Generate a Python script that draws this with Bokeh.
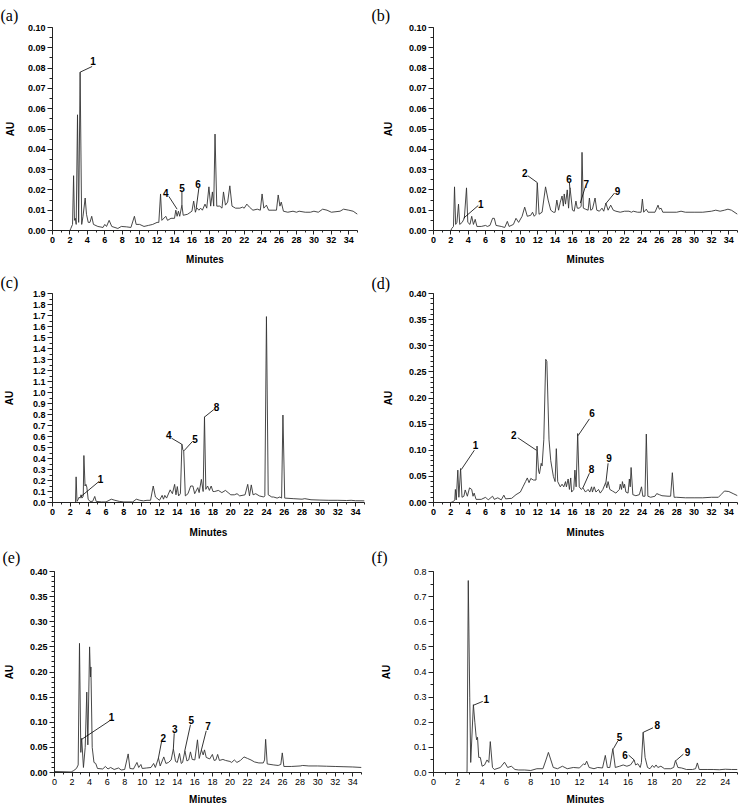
from bokeh.plotting import figure
from bokeh.models import Range1d, FixedTicker, NumeralTickFormatter, ColumnDataSource
from bokeh.layouts import row, column
from bokeh.core.properties import value
from bokeh.embed import file_html
from bokeh.resources import INLINE

# ---------------- data: (minutes, AU) vertices of each chromatogram ----------------
a_trace = [(0,0),(2.0,0),(2.1,0.001),(2.3,0.003),(2.42,0.027),(2.52,0.005),(2.62,0.006),(2.72,0.003),
    (2.87,0.057),(3.0,0.004),(3.17,0.078),(3.35,0.003),(3.5,0.007),(3.75,0.016),(3.9,0.008),(4.1,0.004),
    (4.3,0.004),(4.5,0.007),(4.7,0.003),(5.2,0.002),(5.8,0.0015),(6.0,0.003),(6.2,0.002),(6.5,0.005),
    (6.8,0.002),(7.5,0.001),(7.9,0.002),(8.5,0.0018),(9.0,0.0015),(9.4,0.007),(9.6,0.003),(10.0,0.003),
    (10.5,0.002),(11.0,0.0025),(11.5,0.003),(12.0,0.004),(12.2,0.004),(12.4,0.018),(12.55,0.005),
    (13.0,0.007),(13.2,0.005),(13.6,0.006),(14.0,0.006),(14.15,0.010),(14.3,0.007),(14.45,0.0095),
    (14.6,0.007),(14.85,0.0125),(15.0,0.0075),(15.5,0.008),(16.0,0.0095),(16.2,0.0145),(16.4,0.009),
    (16.55,0.0112),(16.8,0.010),(17.0,0.011),(17.2,0.010),(17.5,0.013),(17.7,0.011),(17.95,0.0215),
    (18.15,0.012),(18.35,0.019),(18.5,0.012),(18.65,0.0475),(18.85,0.012),(19.2,0.012),(19.45,0.011),
    (19.62,0.019),(19.85,0.0125),(20.1,0.014),(20.35,0.022),(20.6,0.012),(21.0,0.011),(21.5,0.011),
    (21.8,0.0115),(22.0,0.011),(22.3,0.013),(22.6,0.0115),(23.0,0.010),(23.5,0.0105),(23.85,0.010),
    (24.05,0.018),(24.25,0.011),(24.55,0.0125),(24.8,0.010),(25.3,0.010),(25.7,0.010),(25.9,0.0175),
    (26.1,0.012),(26.25,0.014),(26.5,0.0095),(27.0,0.009),(27.6,0.0095),(28.0,0.009),(28.3,0.0095),
    (29.0,0.009),(29.6,0.009),(30.0,0.0095),(30.5,0.009),(31.0,0.0105),(31.5,0.010),(32.0,0.009),
    (33.0,0.0095),(33.4,0.0105),(34.0,0.010),(34.5,0.0095),(35.0,0.008)]

b_trace = [(0,0),(2.0,0),(2.1,0.001),(2.3,0.002),(2.42,0.0215),(2.55,0.003),(2.7,0.004),(2.88,0.013),
    (3.02,0.003),(3.3,0.004),(3.55,0.006),(3.8,0.021),(3.95,0.004),(4.2,0.003),(4.4,0.007),(4.6,0.003),
    (4.8,0.0055),(5.0,0.002),(5.5,0.002),(6.0,0.0025),(6.2,0.002),(6.5,0.0025),(6.8,0.006),(7.0,0.006),
    (7.2,0.0025),(7.8,0.002),(8.2,0.0015),(8.5,0.0045),(8.7,0.002),(9.2,0.003),(9.5,0.006),(9.8,0.004),
    (10.2,0.007),(10.5,0.0115),(10.8,0.007),(11.2,0.0075),(11.4,0.009),(11.6,0.007),(11.8,0.008),
    (11.95,0.0235),(12.15,0.008),(12.5,0.009),(12.9,0.0215),(13.2,0.015),(13.5,0.010),(13.8,0.009),
    (14.0,0.009),(14.2,0.015),(14.4,0.010),(14.6,0.014),(14.8,0.017),(14.95,0.012),(15.05,0.018),
    (15.2,0.013),(15.4,0.020),(15.55,0.011),(15.72,0.021),(16.0,0.010),(16.2,0.0095),(16.4,0.0145),
    (16.55,0.011),(16.8,0.011),(17.0,0.012),(17.1,0.0385),(17.25,0.011),(17.5,0.0105),(17.8,0.010),
    (17.95,0.016),(18.1,0.010),(18.3,0.0105),(18.6,0.016),(18.8,0.010),(19.1,0.0095),(19.4,0.011),
    (19.6,0.0095),(19.85,0.0135),(20.1,0.010),(20.4,0.0125),(20.7,0.010),(21.0,0.0095),(21.5,0.009),
    (22.0,0.0095),(22.5,0.0095),(22.8,0.009),(23.0,0.0095),(23.5,0.009),(23.9,0.009),(24.05,0.0155),
    (24.2,0.009),(24.5,0.0105),(24.7,0.009),(25.5,0.009),(25.85,0.0125),(26.0,0.0105),(26.2,0.011),
    (26.4,0.009),(27.0,0.009),(28.0,0.009),(28.5,0.0095),(29.0,0.009),(30.0,0.009),(31.0,0.009),
    (32.0,0.0095),(32.5,0.010),(33.0,0.0095),(33.5,0.0100),(33.9,0.0105),(34.3,0.010),(35.0,0.008)]

c_trace = [(0,0),(2.5,0),(2.58,0.005),(2.65,0.233),(2.75,0.01),(2.9,0.03),(3.0,0.05),(3.1,0.04),
    (3.2,0.07),(3.3,0.04),(3.4,0.05),(3.45,0.06),(3.52,0.427),(3.65,0.15),(3.75,0.165),(3.85,0.14),
    (4.0,0.03),(4.2,0.01),(4.5,0.01),(4.74,0.055),(4.9,0.01),(5.5,0.005),(6.0,0.005),(6.6,0.03),
    (7.0,0.02),(7.5,0.01),(8.0,0.005),(9.0,0.005),(9.4,0.03),(9.8,0.02),(10.2,0.015),(10.6,0.02),
    (11.0,0.02),(11.3,0.15),(11.55,0.05),(12.0,0.02),(12.3,0.065),(12.45,0.03),(12.6,0.065),(12.8,0.04),
    (13.2,0.115),(13.45,0.08),(13.7,0.165),(13.85,0.07),(14.0,0.145),(14.15,0.06),(14.35,0.08),
    (14.52,0.53),(14.62,0.48),(14.72,0.47),(14.9,0.06),(15.2,0.08),(15.5,0.15),(15.75,0.15),
    (15.95,0.08),(16.3,0.135),(16.45,0.09),(16.7,0.21),(16.9,0.10),(17.05,0.78),(17.2,0.12),(17.4,0.15),
    (17.6,0.11),(17.8,0.15),(18.0,0.10),(18.2,0.10),(18.6,0.11),(19.0,0.09),(19.4,0.11),(19.7,0.09),
    (20.0,0.07),(20.4,0.07),(20.7,0.08),(21.0,0.06),(21.6,0.07),(21.9,0.165),(22.1,0.06),(22.3,0.16),
    (22.5,0.07),(22.8,0.08),(23.2,0.06),(23.7,0.05),(23.82,0.06),(24.0,1.69),(24.2,0.07),(24.4,0.06),
    (24.6,0.05),(24.8,0.05),(25.2,0.04),(25.5,0.05),(25.7,0.04),(25.85,0.795),(26.05,0.04),(27.0,0.035),
    (28.0,0.03),(28.3,0.035),(29.0,0.025),(30.0,0.022),(31.0,0.02),(32.0,0.02),(33.0,0.018),
    (33.5,0.02),(34.0,0.016),(35.0,0.015)]

d_trace = [(0,0),(2.0,0),(2.3,0.002),(2.45,0.005),(2.52,0.025),(2.62,0.005),(2.8,0.062),(2.92,0.01),
    (3.12,0.065),(3.28,0.01),(3.5,0.012),(3.65,0.024),(3.9,0.012),(4.15,0.028),(4.4,0.025),(4.55,0.012),
    (4.68,0.018),(4.9,0.006),(5.5,0.006),(6.0,0.01),(6.3,0.005),(6.8,0.012),(7.0,0.006),(7.4,0.009),
    (7.8,0.005),(8.1,0.014),(8.3,0.007),(9.0,0.008),(9.5,0.015),(10.0,0.02),(10.3,0.03),(10.6,0.04),
    (10.8,0.047),(11.0,0.038),(11.2,0.046),(11.5,0.043),(11.8,0.043),(11.92,0.108),(12.1,0.06),
    (12.2,0.055),(12.4,0.075),(12.5,0.07),(12.7,0.12),(12.92,0.274),(13.05,0.27),(13.3,0.12),(13.5,0.08),
    (13.8,0.05),(14.0,0.04),(14.14,0.103),(14.3,0.04),(14.6,0.03),(14.8,0.035),(15.0,0.03),(15.2,0.04),
    (15.3,0.03),(15.5,0.045),(15.65,0.025),(15.8,0.047),(15.9,0.02),(16.15,0.025),(16.28,0.062),
    (16.42,0.03),(16.6,0.132),(16.78,0.03),(17.0,0.025),(17.2,0.028),(17.5,0.02),(17.8,0.025),
    (18.0,0.02),(18.2,0.03),(18.3,0.02),(18.5,0.03),(18.7,0.02),(19.0,0.025),(19.2,0.018),(19.5,0.025),
    (19.82,0.038),(19.95,0.028),(20.1,0.04),(20.3,0.025),(20.6,0.022),(21.0,0.018),(21.4,0.025),
    (21.5,0.035),(21.65,0.025),(21.75,0.04),(21.9,0.028),(22.0,0.035),(22.15,0.02),(22.4,0.018),
    (22.55,0.045),(22.65,0.03),(22.75,0.067),(22.95,0.015),(23.3,0.013),(23.7,0.015),(23.95,0.03),
    (24.1,0.012),(24.35,0.012),(24.5,0.131),(24.68,0.012),(25.0,0.01),(25.5,0.012),(25.7,0.017),
    (26.0,0.015),(26.3,0.013),(27.0,0.012),(27.3,0.012),(27.5,0.057),(27.7,0.01),(28.0,0.01),
    (29.0,0.009),(30.0,0.009),(31.0,0.009),(32.0,0.01),(32.8,0.01),(33.1,0.015),(33.5,0.022),
    (34.0,0.021),(34.5,0.017),(35.0,0.013)]

e_trace = [(0,0.002),(1.9,0.001),(2.2,0.004),(2.5,0.008),(2.7,0.015),(2.85,0.257),(3.0,0.04),
    (3.1,0.068),(3.3,0.01),(3.5,0.05),(3.68,0.16),(3.8,0.055),(4.0,0.25),(4.1,0.19),(4.15,0.21),
    (4.3,0.05),(4.5,0.02),(4.7,0.018),(4.9,0.008),(5.5,0.007),(5.8,0.012),(6.1,0.007),(6.4,0.01),
    (6.8,0.006),(7.3,0.009),(7.6,0.005),(8.0,0.006),(8.4,0.037),(8.6,0.008),(9.0,0.007),(9.4,0.02),
    (9.6,0.01),(9.85,0.016),(10.0,0.008),(10.5,0.009),(11.0,0.01),(11.3,0.018),(11.5,0.01),
    (11.85,0.029),(12.05,0.013),(12.46,0.031),(12.7,0.018),(13.0,0.02),(13.3,0.025),(13.55,0.047),
    (13.8,0.022),(14.0,0.02),(14.25,0.038),(14.45,0.018),(14.6,0.02),(14.87,0.043),(15.1,0.023),
    (15.3,0.025),(15.5,0.041),(15.7,0.026),(16.0,0.025),(16.3,0.065),(16.5,0.028),(16.75,0.045),
    (16.95,0.035),(17.1,0.045),(17.3,0.03),(17.7,0.027),(18.0,0.036),(18.2,0.024),(18.4,0.025),
    (18.6,0.036),(18.8,0.024),(19.2,0.026),(19.5,0.024),(20.0,0.022),(20.2,0.02),(20.5,0.025),
    (20.8,0.02),(21.2,0.024),(21.6,0.031),(22.0,0.028),(22.4,0.025),(22.8,0.021),(23.3,0.019),
    (23.8,0.019),(23.95,0.025),(24.07,0.066),(24.25,0.017),(25.0,0.015),(25.5,0.014),(25.8,0.016),
    (25.97,0.039),(26.15,0.012),(27.0,0.012),(28.0,0.013),(28.3,0.014),(29.0,0.013),(30.0,0.013),
    (31.0,0.0125),(32.0,0.012),(33.0,0.0115),(34.0,0.011),(35.0,0.010)]

f_trace = [(0,0),(2.7,0),(2.76,0.005),(2.86,0.764),(2.98,0.3),(3.06,0.04),(3.28,0.27),(3.4,0.2),
    (3.5,0.146),(3.55,0.13),(3.62,0.14),(3.72,0.06),(3.85,0.06),(4.0,0.025),(4.2,0.03),(4.4,0.05),
    (4.55,0.04),(4.67,0.123),(4.85,0.02),(5.0,0.012),(5.5,0.02),(5.84,0.041),(6.1,0.02),(6.4,0.025),
    (6.7,0.012),(7.0,0.01),(7.5,0.01),(8.0,0.008),(8.5,0.015),(9.0,0.015),(9.25,0.05),(9.45,0.08),
    (9.65,0.05),(9.85,0.02),(10.2,0.015),(10.6,0.025),(11.0,0.015),(11.5,0.02),(12.0,0.018),
    (12.35,0.035),(12.45,0.03),(12.6,0.045),(12.8,0.02),(13.2,0.015),(13.5,0.02),(13.9,0.018),
    (14.13,0.068),(14.3,0.02),(14.5,0.02),(14.75,0.095),(14.95,0.02),(15.3,0.025),(15.6,0.03),
    (15.9,0.025),(16.2,0.03),(16.5,0.05),(16.62,0.03),(16.8,0.035),(17.0,0.02),(17.1,0.04),
    (17.24,0.16),(17.4,0.06),(17.6,0.02),(17.8,0.015),(18.0,0.028),(18.15,0.02),(18.3,0.03),
    (18.45,0.02),(18.7,0.025),(19.0,0.015),(19.5,0.015),(19.75,0.02),(19.9,0.048),(20.1,0.02),
    (20.4,0.018),(20.8,0.012),(21.3,0.012),(21.55,0.015),(21.7,0.038),(21.85,0.012),(22.5,0.012),
    (23.0,0.012),(23.5,0.011),(24.0,0.013),(24.5,0.012),(25.0,0.012)]

# ---------------- peak annotations: label, text x/y, leader start x/y, peak x/y ----------------
a_labels = [("1",4.65,0.0835,4.55,0.0808,3.17,0.078),("4",13.0,0.0185,13.35,0.0168,14.3,0.0105),
            ("5",14.85,0.0208,14.85,0.0192,14.85,0.0125),("6",16.7,0.0228,16.8,0.0210,16.5,0.0112)]
b_labels = [("1",5.45,0.0131,5.15,0.0123,3.45,0.0060),("2",10.5,0.0282,10.85,0.027,11.95,0.0236),
            ("6",15.6,0.0252,15.65,0.0235,15.7,0.0208),("7",17.6,0.0228,17.45,0.0212,16.9,0.0135),
            ("9",21.2,0.0197,20.85,0.0185,19.85,0.0133)]
c_labels = [("1",5.4,0.21,5.2,0.19,3.2,0.055),("4",13.05,0.61,13.35,0.585,14.5,0.53),
            ("5",16.0,0.58,15.7,0.555,14.75,0.47),("8",18.4,0.87,18.1,0.845,17.1,0.78)]
d_labels = [("1",4.85,0.111,4.7,0.100,3.2,0.063),("2",9.25,0.130,9.7,0.124,11.85,0.100),
            ("6",18.25,0.172,17.95,0.160,16.65,0.128),("8",18.2,0.065,17.95,0.056,17.2,0.028),
            ("9",20.2,0.085,20.1,0.075,19.85,0.038)]
e_labels = [("1",6.5,0.111,6.3,0.103,3.1,0.066),("2",12.4,0.069,12.2,0.061,11.85,0.029),
            ("3",13.7,0.086,13.65,0.078,13.55,0.047),("5",15.6,0.104,15.5,0.095,14.85,0.043),
            ("7",17.5,0.092,17.3,0.083,16.75,0.045)]
f_labels = [("1",4.35,0.294,4.05,0.283,3.3,0.268),("5",15.3,0.14,15.15,0.125,14.8,0.095),
            ("6",15.75,0.071,16.05,0.069,16.5,0.05),("8",18.4,0.19,18.05,0.178,17.25,0.16),
            ("9",20.9,0.082,20.55,0.073,19.95,0.048)]

# ---------------- tick values ----------------
x35_major = [0,2,4,6,8,10,12,14,16,18,20,22,24,26,28,30,32,34]
x35_minor = list(range(0, 36))
x25_major = [0,2,4,6,8,10,12,14,16,18,20,22,24]
x25_minor = list(range(0, 26))
y010_major = [0.00,0.01,0.02,0.03,0.04,0.05,0.06,0.07,0.08,0.09,0.10]
y010_minor = [0.000,0.005,0.010,0.015,0.020,0.025,0.030,0.035,0.040,0.045,0.050,
              0.055,0.060,0.065,0.070,0.075,0.080,0.085,0.090,0.095,0.100]
y19_major = [0.0,0.1,0.2,0.3,0.4,0.5,0.6,0.7,0.8,0.9,1.0,1.1,1.2,1.3,1.4,1.5,1.6,1.7,1.8,1.9]
y19_minor = [0.0,0.05,0.1,0.15,0.2,0.25,0.3,0.35,0.4,0.45,0.5,0.55,0.6,0.65,0.7,0.75,0.8,0.85,
             0.9,0.95,1.0,1.05,1.1,1.15,1.2,1.25,1.3,1.35,1.4,1.45,1.5,1.55,1.6,1.65,1.7,1.75,1.8,
             1.85,1.9]
y040_major = [0.00,0.05,0.10,0.15,0.20,0.25,0.30,0.35,0.40]
y040_minor = [0.00,0.01,0.02,0.03,0.04,0.05,0.06,0.07,0.08,0.09,0.10,0.11,0.12,0.13,0.14,0.15,
              0.16,0.17,0.18,0.19,0.20,0.21,0.22,0.23,0.24,0.25,0.26,0.27,0.28,0.29,0.30,0.31,
              0.32,0.33,0.34,0.35,0.36,0.37,0.38,0.39,0.40]
y08_major = [0.0,0.1,0.2,0.3,0.4,0.5,0.6,0.7,0.8]
y08_minor = [0.0,0.05,0.1,0.15,0.2,0.25,0.3,0.35,0.4,0.45,0.5,0.55,0.6,0.65,0.7,0.75,0.8]

SANS = "Liberation Sans"
INK = "#222222"


def panel(tag, trace, labels, xmax, xmaj, xmin, ymax, ymaj, ymin, yfmt, geom,
          ybold=True, xbold=True, au_standoff=8, tag_standoff=3, tag_dx=1, min_standoff=6):
    w, h, bl, br, bt, bb = geom
    p = figure(width=w, height=h, output_backend="svg", toolbar_location=None,
               x_range=Range1d(0, xmax), y_range=Range1d(0, ymax),
               min_border_left=bl, min_border_right=br, min_border_top=bt, min_border_bottom=bb)
    p.outline_line_color = None
    p.grid.visible = False
    p.background_fill_color = "white"
    p.border_fill_color = "white"

    # panel tag as a left-aligned title pulled over the left border
    p.title.text = tag
    p.title.align = "left"
    p.title.offset = -(bl - tag_dx)
    p.title.standoff = tag_standoff
    p.title.text_font = "Liberation Serif"
    p.title.text_font_style = "normal"
    p.title.text_font_size = "16px"
    p.title.text_color = "black"

    ts, ms = zip(*trace)
    p.line(list(ts), list(ms), line_color="#333333", line_width=0.9)

    src = ColumnDataSource(dict(
        lab=[l[0] for l in labels], tx=[l[1] for l in labels], ty=[l[2] for l in labels],
        lx=[l[3] for l in labels], ly=[l[4] for l in labels],
        px=[l[5] for l in labels], py=[l[6] for l in labels]))
    p.segment(x0="lx", y0="ly", x1="px", y1="py", source=src, line_color="black", line_width=0.8)
    p.text(x="tx", y="ty", text="lab", source=src, text_font=value(SANS), text_font_style="bold",
           text_font_size="10px", text_align="center", text_baseline="middle", text_color="black")

    for ax in (p.xaxis[0], p.yaxis[0]):
        ax.axis_line_color = INK
        ax.major_tick_line_color = INK
        ax.minor_tick_line_color = INK
        ax.major_tick_in = 0
        ax.minor_tick_in = 0
        ax.major_label_text_font = SANS
        ax.major_label_text_font_size = "9px"
        ax.major_label_text_color = "black"
        ax.axis_label_text_font = SANS
        ax.axis_label_text_font_style = "bold"
        ax.axis_label_text_font_size = "10px"
        ax.axis_label_text_color = "black"

    xa = p.xaxis[0]
    xa.ticker = FixedTicker(ticks=xmaj, minor_ticks=xmin)
    xa.major_tick_out = 4
    xa.minor_tick_out = 2
    xa.major_label_standoff = 2
    xa.axis_label = "Minutes"
    xa.axis_label_standoff = min_standoff
    xa.major_label_text_font_style = "bold" if xbold else "normal"

    ya = p.yaxis[0]
    ya.ticker = FixedTicker(ticks=ymaj, minor_ticks=ymin)
    ya.formatter = NumeralTickFormatter(format=yfmt)
    ya.major_tick_out = 5
    ya.minor_tick_out = 3
    ya.major_label_standoff = 2
    ya.axis_label = "AU"
    ya.axis_label_standoff = au_standoff
    ya.major_label_text_font_style = "bold" if ybold else "normal"
    return p


# geometry: (width, height, border left, right, top, bottom)
pa = panel("(a)", a_trace, a_labels, 35, x35_major, x35_minor, 0.10, y010_major, y010_minor, "0.00",
           (365, 267, 52, 8, 26, 37), au_standoff=9, tag_standoff=7, tag_dx=0, min_standoff=8)
pb = panel("(b)", b_trace, b_labels, 35, x35_major, x35_minor, 0.10, y010_major, y010_minor, "0.00",
           (373, 267, 68, 1, 27, 37), au_standoff=12, tag_standoff=8, tag_dx=6, min_standoff=8)
pc = panel("(c)", c_trace, c_labels, 35, x35_major, x35_minor, 1.9, y19_major, y19_minor, "0.0",
           (365, 273, 52, 1, 26, 38), au_standoff=15, tag_standoff=6, tag_dx=0, min_standoff=9)
pd_ = panel("(d)", d_trace, d_labels, 35, x35_major, x35_minor, 0.40, y040_major, y040_minor, "0.00",
            (373, 273, 68, 1, 21, 38), au_standoff=12, tag_standoff=3, tag_dx=6, min_standoff=9)
pe = panel("(e)", e_trace, e_labels, 35, x35_major, x35_minor, 0.40, y040_major, y040_minor, "0.00",
           (365, 267, 52, 4, 31, 35), xbold=False, au_standoff=12, tag_standoff=11, tag_dx=0,
           min_standoff=6)
pf = panel("(f)", f_trace, f_labels, 25, x25_major, x25_minor, 0.8, y08_major, y08_minor, "0.0",
           (373, 267, 68, 1, 31, 35), ybold=False, xbold=False, au_standoff=19, tag_standoff=11,
           tag_dx=6, min_standoff=6)

layout = column(row(pa, pb), row(pc, pd_), row(pe, pf))
open("out.html", "w").write(file_html(layout, INLINE))
